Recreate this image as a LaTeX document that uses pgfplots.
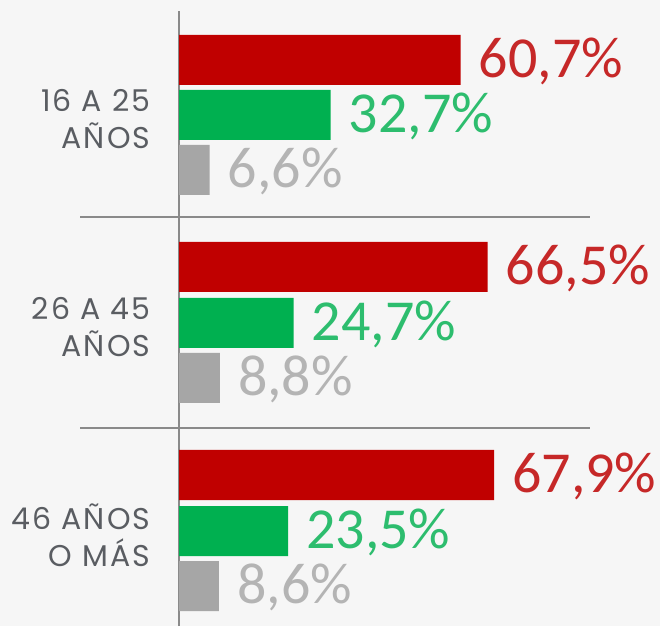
\documentclass[border=0pt]{standalone}
\usepackage{pgfplots}
\pgfplotsset{compat=1.18}
\usepackage{fontspec}
\setmainfont{Carlito}
\newfontfamily\valfont{Carlito}
\newfontfamily\catfont{Poppins}[LetterSpace=7]
\definecolor{bgc}{HTML}{F6F6F6}
\definecolor{redbar}{HTML}{C00000}
\definecolor{redtxt}{HTML}{C62828}
\definecolor{greenbar}{HTML}{00B050}
\definecolor{greentxt}{HTML}{2DBD6E}
\definecolor{graybar}{HTML}{A6A6A6}
\definecolor{graytxt}{HTML}{B4B4B4}
\definecolor{catgray}{HTML}{5A5D62}
\definecolor{axgray}{HTML}{8A8A8A}
\begin{document}
\begin{tikzpicture}
\useasboundingbox (0,0) rectangle (660pt,626pt);
\fill[bgc] (0,0) rectangle (660pt,626pt);
\begin{axis}[
 at={(179pt,0pt)}, anchor=south west,
 scale only axis, width=464pt, height=615pt,
 xmin=0, xmax=100, ymin=0, ymax=615,
 xbar, bar width=50, bar shift=0pt,
 axis x line=none, axis y line*=left,
 axis line style={draw=axgray, line width=1.5pt},
 ytick={95,303,511},
 yticklabels={{46 AÑOS\\O MÁS},{26 A 45\\AÑOS},{16 A 25\\AÑOS}},
 yticklabel style={align=right, font=\catfont\fontsize{30}{37}\selectfont, text=catgray, xshift=-25pt, yshift=-4pt},
 major tick length=0pt,
 clip=false,
 point meta=x,
 nodes near coords={\pgfmathprintnumber[fixed,fixed zerofill,precision=1,use comma,assume math mode=true]{\pgfplotspointmeta}\%},
 nodes near coords style={font=\valfont\fontsize{58}{58}\selectfont, anchor=west, inner sep=0pt, xshift=18pt, yshift=-1pt},
]
\addplot[fill=redbar, draw=none, nodes near coords style={text=redtxt}] coordinates {(60.7,566) (66.5,359) (67.9,151)};
\addplot[fill=greenbar, draw=none, nodes near coords style={text=greentxt}] coordinates {(32.7,511) (24.7,303) (23.5,95)};
\addplot[fill=graybar, draw=none, nodes near coords style={text=graytxt}] coordinates {(6.6,456) (8.8,248) (8.6,40)};
\draw[axgray, line width=1.5pt] (axis cs:-21.3,409) -- (axis cs:88.6,409);
\draw[axgray, line width=1.5pt] (axis cs:-21.3,198) -- (axis cs:88.6,198);
\end{axis}
\end{tikzpicture}
\end{document}
